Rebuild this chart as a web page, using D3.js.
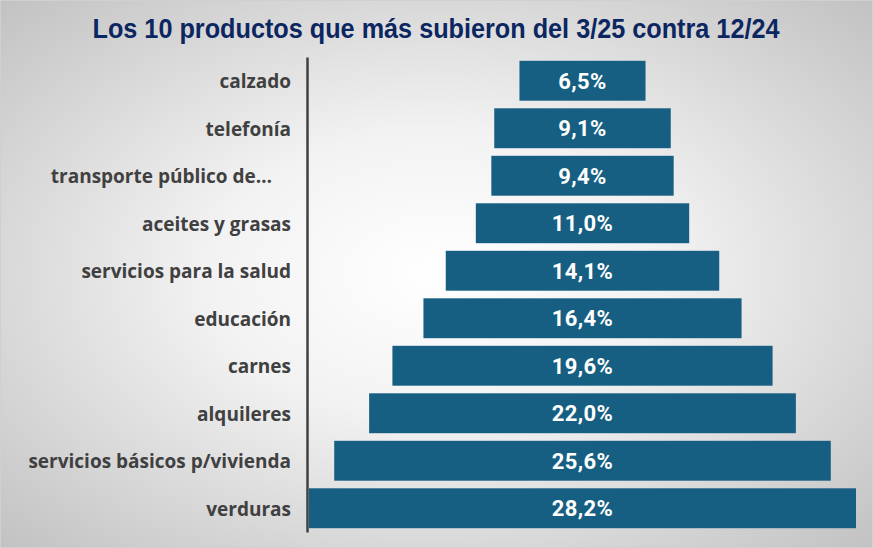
<!DOCTYPE html>
<html><head><meta charset="utf-8">
<script src="https://cdn.jsdelivr.net/npm/d3@7"></script>
<style>
html,body{margin:0;padding:0;background:#fff;}
svg{display:block;}
</style></head>
<body>
<script>
const categories = ["calzado","telefonía","transporte público de…","aceites y grasas","servicios para la salud","educación","carnes","alquileres","servicios básicos p/vivienda","verduras"];
const values = [6.5, 9.1, 9.4, 11.0, 14.1, 16.4, 19.6, 22.0, 25.6, 28.2];
const title = "Los 10 productos que más subieron del 3/25 contra 12/24";

const W = 873, H = 548;
const svg = d3.select("body").append("svg").attr("width", W).attr("height", H);
const defs = svg.append("defs");
const grad = defs.append("radialGradient").attr("id","bg")
  .attr("cx","50%").attr("cy","50%").attr("r","75%");
grad.append("stop").attr("offset","0%").attr("stop-color","#ffffff");
grad.append("stop").attr("offset","35%").attr("stop-color","#f2f2f2");
grad.append("stop").attr("offset","100%").attr("stop-color","#bdbdbd");
svg.append("rect").attr("x",0.5).attr("y",0.5).attr("width",W-1).attr("height",H-1)
  .attr("fill","url(#bg)").attr("stroke","#d0d0d0").attr("stroke-width",1);

svg.append("text").attr("x", 436).attr("y", 38).attr("text-anchor","middle")
  .attr("font-family","'Liberation Sans', Arial, sans-serif")
  .attr("font-weight","bold").attr("font-size",27).attr("fill","#0b2660")
  .attr("textLength", 687).attr("lengthAdjust","spacingAndGlyphs")
  .text(title);

const axisX = 307, center = 582.5;
const y = d3.scaleBand().domain(categories).range([57, 532]).paddingInner(0.16).paddingOuter(0.08);
const w = d3.scaleLinear().domain([0, 28.2]).range([0, 547]);

svg.append("g").selectAll("rect").data(values).join("rect")
  .attr("x", d => center - w(d)/2)
  .attr("y", (d,i) => y(categories[i]))
  .attr("width", d => w(d))
  .attr("height", y.bandwidth())
  .attr("fill", "#175f82");

svg.append("g").selectAll("text").data(values).join("text")
  .attr("x", center)
  .attr("y", (d,i) => y(categories[i]) + y.bandwidth()/2 + 8)
  .attr("text-anchor","middle")
  .attr("font-family","Roboto, sans-serif").attr("font-weight","bold")
  .attr("font-size",22).attr("letter-spacing",0.4).attr("fill","#ffffff")
  .text(d => d.toFixed(1).replace(".", ",") + "%");

const axis = d3.axisLeft(y).tickSize(0).tickPadding(16)
  .tickFormat(d => d.endsWith("…") ? d + "\u2003" : d);
const gA = svg.append("g").attr("transform", `translate(${axisX},0)`).call(axis);
gA.select(".domain").attr("stroke","#404040").attr("stroke-width",2.5);
gA.selectAll(".tick text")
  .attr("font-family","'Open Sans', sans-serif").attr("font-weight","bold")
  .attr("font-size",19).attr("fill","#404040").attr("dy","0.4em");
</script>
</body></html>
